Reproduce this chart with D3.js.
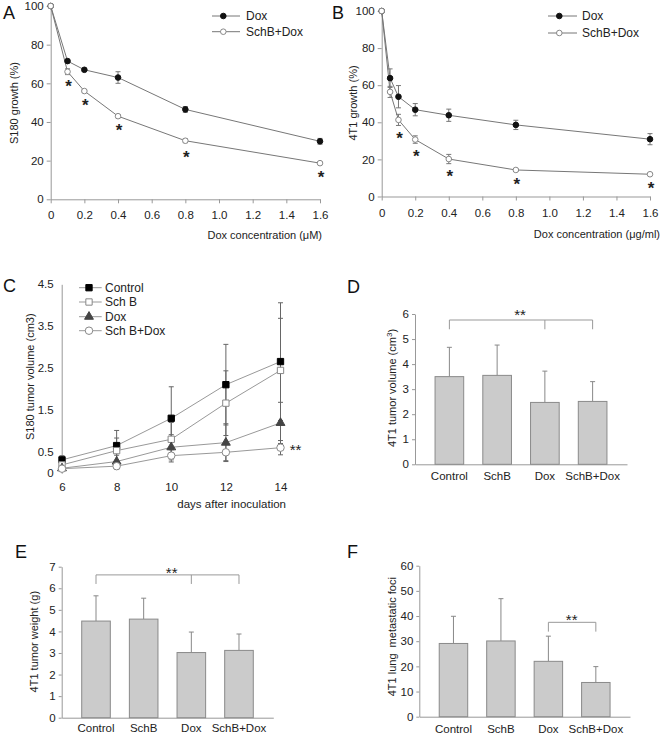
<!DOCTYPE html>
<html>
<head>
<meta charset="utf-8">
<script src="https://cdn.jsdelivr.net/npm/d3@7"></script>
<style>
body{margin:0;background:#fff}
svg{display:block}
</style>
</head>
<body>
<div id="chart"></div>
<script>
// ---- data ----
// A: S180 cells
var doseA = [0, 0.1, 0.2, 0.4, 0.8, 1.6];
var growthA_dox = [100, 71.5, 67, 63, 46.5, 30];
var errA_dox = [0, 1, 0.8, 3, 1.5, 1.5];
var growthA_schbDox = [100, 66, 56, 43, 30.3, 18.7];
var errA_schbDox = [0, 1.5, 0.8, 0.8, 1, 0.6];
var starA = [60.5, 51, 38, 24, 13.4];

// B: 4T1 cells
var doseB = [0, 0.05, 0.1, 0.2, 0.4, 0.8, 1.6];
var growthB_dox = [100, 63.8, 53.8, 46.8, 43.8, 38.6, 30.9];
var errB_dox = [0, 5, 6, 3.3, 3.3, 2.5, 3];
var growthB_schbDox = [100, 56.4, 41.3, 30.7, 20.2, 14.3, 12];
var errB_schbDox = [0, 3, 3, 2, 2.5, 0.7, 0.5];
var starB = [33.6, 23.7, 13, 8.6, 6.8];
var starDose = [0.1, 0.2, 0.4, 0.8, 1.6];

var doseTicks = [0, 0.2, 0.4, 0.6, 0.8, 1.0, 1.2, 1.4, 1.6];
var growthTicks = [0, 20, 40, 60, 80, 100];

// C: S180 tumour volume
var days = [6, 8, 10, 12, 14];
var volC_control = [0.32, 0.66, 1.31, 2.11, 2.66];
var errC_control = [0.1, 0.36, 0.75, 0.96, 1.4];
var volC_schb = [0.2, 0.54, 0.81, 1.67, 2.45];
var errC_schb = [0.08, 0.3, 0.4, 0.77, 1.24];
var volC_dox = [0.12, 0.28, 0.62, 0.73, 1.2];
var errC_dox = [0.05, 0.15, 0.3, 0.45, 0.49];
var volC_schbDox = [0.11, 0.17, 0.42, 0.5, 0.61];
var errC_schbDox = [0.05, 0.08, 0.15, 0.2, 0.17];
var volTicksC = [0, 0.5, 1.5, 2.5, 3.5, 4.5];

// D, E, F: 4T1 in vivo
var groups = ['Control', 'SchB', 'Dox', 'SchB+Dox'];
var volD = [3.5, 3.55, 2.47, 2.51];
var errD = [1.17, 1.21, 1.25, 0.79];
var weightE = [4.48, 4.57, 3.02, 3.12];
var errE = [1.17, 0.97, 0.95, 0.76];
var fociF = [29.1, 30.1, 22, 13.6];
var errF = [10.8, 16.8, 10, 6.3];

// ---- drawing ----
var svg = d3.select('#chart').append('svg')
    .attr('width', 662)
    .attr('height', 735)
    .style('font-family', '"Liberation Sans", Arial, sans-serif');

function tidy(g){
    g.attr('font-family', null).attr('font-size', 11.5);
    g.select('.domain').attr('stroke', '#999');
    g.selectAll('.tick line').attr('stroke', '#999');
    g.selectAll('.tick text').attr('fill', '#222');
}

function letter(t, x, y){
    svg.append('text').attr('x', x).attr('y', y)
	.attr('font-size', 18).attr('fill', '#111').text(t);
}

function yLabel(x, cy){
    return svg.append('text')
	.attr('transform', 'translate(' + x + ',' + cy + ') rotate(-90)')
	.attr('text-anchor', 'middle').attr('dy', '0.35em')
	.attr('font-size', 11).attr('fill', '#222');
}

function stars(g, x, y, s, size, bold){
    g.append('text').attr('x', x).attr('y', y + size * 0.58)
	.attr('text-anchor', 'middle').attr('font-size', size)
	.attr('font-weight', bold ? 'bold' : 'normal')
	.attr('fill', '#222').text(s);
}

function errBars(g, pts, x, y, both, cap, colour){
    pts.forEach(function(p){
	if(!p.e) return;
	var hi = y(p.v + p.e), lo = both ? y(p.v - p.e) : y(p.v), cx = x(p.x);
	g.append('line').attr('x1', cx).attr('x2', cx).attr('y1', hi).attr('y2', lo)
	    .attr('stroke', colour);
	g.append('line').attr('x1', cx - cap).attr('x2', cx + cap).attr('y1', hi).attr('y2', hi)
	    .attr('stroke', colour);
	if(both) g.append('line').attr('x1', cx - cap).attr('x2', cx + cap).attr('y1', lo).attr('y2', lo)
	    .attr('stroke', colour);
    });
}

// A and B
function dosePanel(o){
    var x = d3.scaleLinear().domain([0, 1.6]).range([o.left, o.right]);
    var y = d3.scaleLinear().domain([0, 100]).range([o.bottom, o.top]);
    var g = svg.append('g');
    g.append('g').attr('transform', 'translate(0,' + o.bottom + ')')
	.call(d3.axisBottom(x).tickValues(doseTicks)
	      .tickFormat(function(d){ return d === 0 ? '0' : d3.format('.1f')(d); })
	      .tickSize(4).tickSizeOuter(0).tickPadding(8))
	.call(tidy);
    g.append('g').attr('transform', 'translate(' + o.left + ',0)')
	.call(d3.axisLeft(y).tickValues(growthTicks).tickSize(4).tickSizeOuter(0).tickPadding(3))
	.call(tidy);

    var line = d3.line().x(function(d){ return x(d.x); }).y(function(d){ return y(d.v); });
    var sets = o.series.map(function(s){
	return o.dose.map(function(d, i){ return {x: d, v: s.values[i], e: s.err[i]}; });
    });
    sets.forEach(function(pts){
	g.append('path').datum(pts).attr('d', line)
	    .attr('fill', 'none').attr('stroke', '#777').attr('stroke-width', 1);
    });
    sets.forEach(function(pts){ errBars(g, pts, x, y, true, 2.5, '#777'); });
    sets.forEach(function(pts, k){
	var s = o.series[k];
	g.selectAll(null).data(pts).enter().append('circle')
	    .attr('cx', function(d){ return x(d.x); })
	    .attr('cy', function(d){ return y(d.v); })
	    .attr('r', 2.8)
	    .attr('fill', s.fill).attr('stroke', s.stroke).attr('stroke-width', 1);
    });
    starDose.forEach(function(d, i){ stars(g, x(d) + 1, y(o.stars[i]), '*', 17, true); });

    // legend
    o.series.forEach(function(s, k){
	var ly = o.legY[k];
	g.append('line').attr('x1', o.legX[0]).attr('x2', o.legX[2]).attr('y1', ly).attr('y2', ly)
	    .attr('stroke', '#777');
	g.append('circle').attr('cx', o.legX[1]).attr('cy', ly).attr('r', 2.8)
	    .attr('fill', s.fill).attr('stroke', s.stroke);
	g.append('text').attr('x', o.legX[3]).attr('y', ly).attr('dy', '0.35em')
	    .attr('font-size', 12).attr('fill', '#222').text(s.name);
    });
    g.append('text').attr('x', o.xLab[0]).attr('y', o.xLab[1]).attr('dy', '0.35em')
	.attr('text-anchor', 'end').attr('font-size', 11).attr('fill', '#222').text(o.xTitle);
}

dosePanel({
    left: 50.7, right: 320, top: 6, bottom: 199.3,
    dose: doseA,
    series: [
	{name: 'Dox', values: growthA_dox, err: errA_dox, fill: '#111', stroke: '#111'},
	{name: 'SchB+Dox', values: growthA_schbDox, err: errA_schbDox, fill: '#fff', stroke: '#888'}
    ],
    stars: starA,
    legX: [212, 223.3, 240, 246], legY: [16, 31.7],
    xLab: [322, 235], xTitle: 'Dox concentration (\u03bcM)'
});
yLabel(13.7, 103).text('S180 growth (%)');
letter('A', 3, 18.5);

dosePanel({
    left: 381.7, right: 650, top: 11, bottom: 196.5,
    dose: doseB,
    series: [
	{name: 'Dox', values: growthB_dox, err: errB_dox, fill: '#111', stroke: '#111'},
	{name: 'SchB+Dox', values: growthB_schbDox, err: errB_schbDox, fill: '#fff', stroke: '#888'}
    ],
    stars: starB,
    legX: [548, 559.3, 577, 582], legY: [16, 33],
    xLab: [660, 234], xTitle: 'Dox concentration (\u03bcg/ml)'
});
yLabel(353.3, 103).text('4T1 growth (%)');
letter('B', 332, 18.5);

// C
(function(){
    var x = d3.scaleLinear().domain([6, 14]).range([62, 280.5]);
    var y = d3.scaleLinear().domain([0, 4.5]).range([473.3, 284.3]);
    var g = svg.append('g');
    g.append('g').attr('transform', 'translate(61.7,0)')
	.call(d3.axisLeft(y).tickValues(volTicksC).tickFormat(d3.format('')).tickSize(0).tickPadding(8))
	.call(tidy);
    var xa = g.append('g').attr('transform', 'translate(0,473.3)')
	.call(d3.axisBottom(x).tickValues(days).tickSize(0).tickPadding(10))
	.call(tidy);
    xa.select('.domain').remove();

    var series = [
	{name: 'Control', values: volC_control, err: errC_control, sym: d3.symbolSquare, size: 40, fill: '#000', stroke: '#000'},
	{name: 'Sch B', values: volC_schb, err: errC_schb, sym: d3.symbolSquare, size: 40, fill: '#fff', stroke: '#888'},
	{name: 'Dox', values: volC_dox, err: errC_dox, sym: d3.symbolTriangle, size: 34, fill: '#444', stroke: '#444'},
	{name: 'Sch B+Dox', values: volC_schbDox, err: errC_schbDox, sym: d3.symbolCircle, size: 44, fill: '#fff', stroke: '#888'}
    ];
    var line = d3.line().x(function(d){ return x(d.x); }).y(function(d){ return y(d.v); });
    var sets = series.map(function(s){
	return days.map(function(d, i){ return {x: d, v: s.values[i], e: s.err[i]}; });
    });
    sets.forEach(function(pts){ errBars(g, pts, x, y, true, 2.5, '#666'); });
    sets.forEach(function(pts){
	g.append('path').datum(pts).attr('d', line)
	    .attr('fill', 'none').attr('stroke', '#999');
    });
    sets.forEach(function(pts, k){
	var s = series[k];
	g.selectAll(null).data(pts).enter().append('path')
	    .attr('transform', function(d){ return 'translate(' + x(d.x) + ',' + y(d.v) + ')'; })
	    .attr('d', d3.symbol().type(s.sym).size(s.size))
	    .attr('fill', s.fill).attr('stroke', s.stroke);
    });
    stars(g, x(14) + 15, y(volC_schbDox[4]) - 1, '**', 15);

    var legY = [287.7, 302, 316.7, 330.7];
    series.forEach(function(s, k){
	g.append('line').attr('x1', 79).attr('x2', 101.7).attr('y1', legY[k]).attr('y2', legY[k])
	    .attr('stroke', '#999');
	g.append('path').attr('transform', 'translate(89,' + legY[k] + ')')
	    .attr('d', d3.symbol().type(s.sym).size(s.size))
	    .attr('fill', s.fill).attr('stroke', s.stroke);
	g.append('text').attr('x', 105).attr('y', legY[k]).attr('dy', '0.35em')
	    .attr('font-size', 12).attr('fill', '#222').text(s.name);
    });
    g.append('text').attr('x', 286).attr('y', 504).attr('dy', '0.35em')
	.attr('text-anchor', 'end').attr('font-size', 11.5).attr('fill', '#222')
	.text('days after inoculation');
    yLabel(30, 376.7).text('S180 tumor volume (cm3)');
    letter('C', 3, 292);
})();

// D, E, F
function barPanel(o){
    var x = d3.scaleBand().domain(groups).range([o.left, o.right])
	.paddingInner(0.4).paddingOuter(0.42);
    var y = d3.scaleLinear().domain([0, o.max]).range([o.bottom, o.top]);
    var g = svg.append('g');
    g.append('g').attr('transform', 'translate(' + o.left + ',0)')
	.call(d3.axisLeft(y).ticks(o.max > 10 ? 6 : o.max).tickSize(3).tickSizeOuter(0).tickPadding(3))
	.call(tidy);
    g.append('g').attr('transform', 'translate(0,' + o.bottom + ')')
	.call(d3.axisBottom(x).tickSize(0).tickPadding(o.pad))
	.call(tidy);

    var cx = function(d){ return x(d) + x.bandwidth() / 2; };
    var pts = groups.map(function(d, i){ return {x: d, v: o.values[i], e: o.err[i]}; });
    errBars(g, pts, cx, y, false, 2.5, '#888');
    g.selectAll('rect').data(pts).enter().append('rect')
	.attr('x', function(d){ return x(d.x); })
	.attr('y', function(d){ return y(d.v); })
	.attr('width', x.bandwidth())
	.attr('height', function(d){ return y(0) - y(d.v); })
	.attr('fill', '#cbcbcb').attr('stroke', '#8a8a8a');

    // significance bracket
    var b = o.bracket, by = y(b.level), bd = y(b.drop);
    var xs = b.at.map(function(i){ return cx(groups[i]); });
    g.append('line').attr('x1', d3.min(xs)).attr('x2', d3.max(xs)).attr('y1', by).attr('y2', by)
	.attr('stroke', '#999');
    xs.forEach(function(v){
	g.append('line').attr('x1', v).attr('x2', v).attr('y1', by).attr('y2', bd).attr('stroke', '#999');
    });
    stars(g, b.starX, y(b.star), '**', 15);
}

barPanel({
    left: 415, right: 627, top: 314, bottom: 464.3, max: 6, pad: 8,
    values: volD, err: errD,
    bracket: {at: [0, 2, 3], level: 5.76, drop: 5.39, star: 6.09, starX: 520}
});
yLabel(391.7, 388).call(function(t){
    t.append('tspan').text('4T1 tumor volume (cm');
    t.append('tspan').attr('baseline-shift', 'super').attr('font-size', 8).text('3');
    t.append('tspan').text(')');
});
letter('D', 347, 293);

barPanel({
    left: 61.7, right: 273.3, top: 566.7, bottom: 717.7, max: 7, pad: 6,
    values: weightE, err: errE,
    bracket: {at: [0, 2, 3], level: 6.62, drop: 6.2, star: 6.89, starX: 171.7}
});
yLabel(34.3, 641.7).text('4T1 tumor weight (g)');
letter('E', 15, 558);

barPanel({
    left: 419.3, right: 630, top: 565.7, bottom: 716.7, max: 60, pad: 8,
    values: fociF, err: errF,
    bracket: {at: [2, 3], level: 37.5, drop: 33.8, star: 39.7, starX: 571.7}
});
yLabel(391.7, 636.7).text('4T1 lung  metastatic foci').style('white-space', 'pre');
letter('F', 347, 558);
</script>
</body>
</html>
